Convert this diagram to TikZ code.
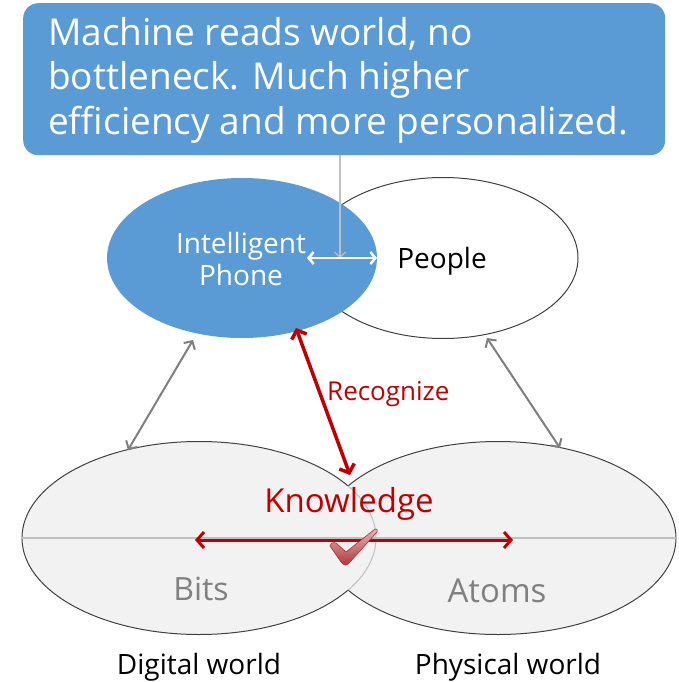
\documentclass[tikz,border=0pt]{standalone}
\usepackage{fontspec}
\setmainfont{Open Sans}
\usetikzlibrary{arrows.meta,shapes.geometric}
\definecolor{blu}{RGB}{91,155,213}
\definecolor{lgray}{RGB}{242,242,242}
\definecolor{dred}{RGB}{192,0,0}
\definecolor{edgegray}{RGB}{64,64,64}
\definecolor{linegray}{RGB}{191,191,191}
\definecolor{arrgray}{RGB}{127,127,127}
\definecolor{txtgray}{RGB}{128,128,128}
\begin{document}
\begin{tikzpicture}[x=1pt,y=-1pt,
  garrow/.style={draw=arrgray, line width=2pt, {Straight Barb[length=6pt,width=13pt]}-{Straight Barb[length=6pt,width=13pt]}},
  rarrow/.style={draw=dred, line width=3.5pt, {Straight Barb[length=7pt,width=16pt]}-{Straight Barb[length=7pt,width=16pt]}},
  warrow/.style={draw=white, line width=2.5pt, {Straight Barb[length=5pt,width=12pt]}-{Straight Barb[length=5pt,width=12pt]}},
  lbl/.style={inner sep=0pt, anchor=base},
  ttl/.style={inner sep=0pt, anchor=base west, text=white, font=\fontsize{37}{44}\selectfont}]
\useasboundingbox (0,0) rectangle (679,682);
% title box
\node[fill=blu, rounded corners=15pt, minimum width=642pt, minimum height=152pt, anchor=north west, inner sep=0pt] (title) at (23,3) {};
\node[ttl] (t1) at (48,46) {Machine reads world, no};
\node[ttl] (t2) at (48,90) {bottleneck. Much higher};
\node[ttl] (t3) at (48,134) {efficiency and more personalized.};
% bottom ellipses
\fill[lgray] (199,538) ellipse [x radius=177pt, y radius=96.5pt];
\draw[edgegray, line width=1pt] (199,538) ellipse [x radius=177pt, y radius=96.5pt];
\fill[lgray] (498,538) ellipse [x radius=178pt, y radius=96.5pt];
\begin{scope}[even odd rule]
  \clip (0,0) rectangle (679,682) (199,538) ellipse [x radius=177pt, y radius=96.5pt];
  \draw[edgegray, line width=1pt] (498,538) ellipse [x radius=178pt, y radius=96.5pt];
\end{scope}
\begin{scope}
  \clip (498,538) ellipse [x radius=178pt, y radius=96.5pt];
  \draw[linegray, line width=1pt] (199,538) ellipse [x radius=177pt, y radius=96.5pt];
\end{scope}
\node[ellipse, minimum width=354pt, minimum height=193pt, inner sep=0pt] (digital) at (199,538) {};
\node[ellipse, minimum width=356pt, minimum height=193pt, inner sep=0pt] (physical) at (498,538) {};
\draw[linegray, line width=1.2pt] (digital.west) -- (physical.east);
% top ellipses
\node[ellipse, draw=edgegray, fill=white, line width=1pt, minimum width=270pt, minimum height=161pt, inner sep=0pt] (people) at (443,258) {};
\node[ellipse, fill=blu, minimum width=270pt, minimum height=160pt, inner sep=0pt] (phone) at (242,258) {};
% texts
\node[lbl, text=white, font=\fontsize{28}{32}\selectfont] (phonetxt1) at (241,253) {Intelligent};
\node[lbl, text=white, font=\fontsize{28}{32}\selectfont] (phonetxt2) at (241,285) {Phone};
\node[lbl, font=\fontsize{28}{32}\selectfont] (peopletxt) at (442,268) {People};
\node[lbl, anchor=base west, text=dred, font=\fontsize{26}{30}\selectfont] (recog) at (327,400) {Recognize};
\node[lbl, text=dred, font=\fontsize{33}{38}\selectfont] (know) at (349,512) {Knowledge};
\node[lbl, text=txtgray, font=\fontsize{32}{36}\selectfont] (bits) at (201,600) {Bits};
\node[lbl, text=txtgray, font=\fontsize{33}{36}\selectfont] (atoms) at (497,602) {Atoms};
\node[lbl, font=\fontsize{28}{30}\selectfont] (dw) at (199,674) {Digital world};
\node[lbl, font=\fontsize{28}{30}\selectfont] (pw) at (508,674) {Physical world};
% connectors
\coordinate (gtop) at (340,155);
\coordinate (gend) at (340,258);
\draw[linegray, line width=1.2pt, -{Straight Barb[length=5pt,width=11pt]}] (gtop) -- (gend);
\coordinate (wl) at (307,258);
\coordinate (wr) at (377,258);
\draw[warrow] (wl) -- (wr);
\coordinate (ga1) at (193,340);
\coordinate (ga2) at (128,450);
\draw[garrow] (ga1) -- (ga2);
\coordinate (gb1) at (487,338);
\coordinate (gb2) at (560,448);
\draw[garrow] (gb1) -- (gb2);
\coordinate (r1) at (296,328);
\coordinate (r2) at (350,475);
\draw[rarrow] (r1) -- (r2);
\coordinate (h1) at (195,540);
\coordinate (h2) at (513,540);
\draw[rarrow, line width=3pt] (h1) -- (h2);
% check mark
\draw[draw={rgb,255:red,165;green,50;blue,50}, line width=0.6pt, top color={rgb,255:red,238;green,180;blue,180}, bottom color={rgb,255:red,175;green,55;blue,55}]
  (330,546) .. controls (331,543) and (333,542) .. (336,543) -- (346,552) -- (375,529) .. controls (377,528) and (378,530) .. (377,532)
  -- (350,562) .. controls (347,566) and (344,566) .. (341,562) -- cycle;
\end{tikzpicture}
\end{document}
